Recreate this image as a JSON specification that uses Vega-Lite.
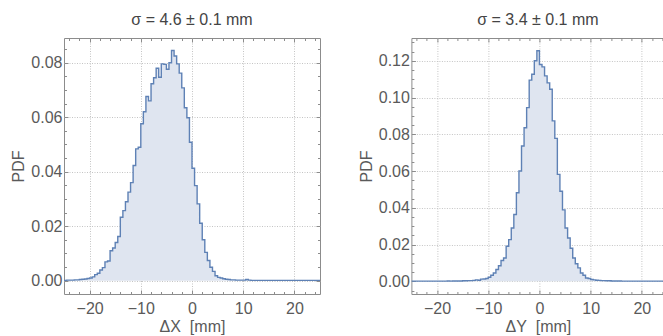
{
  "$schema": "https://vega.github.io/schema/vega-lite/v6.json",
  "padding": {"left": 10, "top": 11, "right": 0, "bottom": 0},
  "spacing": 91.4,
  "bounds": "flush",
  "datasets": {
    "dx": [
      {"x": -25, "pdf": 0.0001}, {"x": -24.5, "pdf": 0.0002}, {"x": -24, "pdf": 0.0002}, {"x": -23.5, "pdf": 0.0002},
      {"x": -23, "pdf": 0.0003}, {"x": -22.5, "pdf": 0.0003}, {"x": -22, "pdf": 0.0004}, {"x": -21.5, "pdf": 0.0005},
      {"x": -21, "pdf": 0.0006}, {"x": -20.5, "pdf": 0.0008}, {"x": -20, "pdf": 0.0010}, {"x": -19.5, "pdf": 0.0014},
      {"x": -19, "pdf": 0.0022}, {"x": -18.5, "pdf": 0.0027}, {"x": -18, "pdf": 0.0039}, {"x": -17.5, "pdf": 0.0048},
      {"x": -17, "pdf": 0.0069}, {"x": -16.5, "pdf": 0.0072}, {"x": -16, "pdf": 0.0110}, {"x": -15.5, "pdf": 0.0120},
      {"x": -15, "pdf": 0.0140}, {"x": -14.5, "pdf": 0.0162}, {"x": -14, "pdf": 0.0233}, {"x": -13.5, "pdf": 0.0257},
      {"x": -13, "pdf": 0.0290}, {"x": -12.5, "pdf": 0.0325}, {"x": -12, "pdf": 0.0360}, {"x": -11.5, "pdf": 0.0423},
      {"x": -11, "pdf": 0.0484}, {"x": -10.5, "pdf": 0.0490}, {"x": -10, "pdf": 0.0576}, {"x": -9.5, "pdf": 0.0620},
      {"x": -9, "pdf": 0.0676}, {"x": -8.5, "pdf": 0.0660}, {"x": -8, "pdf": 0.0723}, {"x": -7.5, "pdf": 0.0745},
      {"x": -7, "pdf": 0.0780}, {"x": -6.5, "pdf": 0.0747}, {"x": -6, "pdf": 0.0796}, {"x": -5.5, "pdf": 0.0794},
      {"x": -5, "pdf": 0.0776}, {"x": -4.5, "pdf": 0.0800}, {"x": -4, "pdf": 0.0845}, {"x": -3.5, "pdf": 0.0825},
      {"x": -3, "pdf": 0.0796}, {"x": -2.5, "pdf": 0.0762}, {"x": -2, "pdf": 0.0708}, {"x": -1.5, "pdf": 0.0635},
      {"x": -1, "pdf": 0.0598}, {"x": -0.5, "pdf": 0.0508}, {"x": 0, "pdf": 0.0413}, {"x": 0.5, "pdf": 0.0349},
      {"x": 1, "pdf": 0.0282}, {"x": 1.5, "pdf": 0.0211}, {"x": 2, "pdf": 0.0150}, {"x": 2.5, "pdf": 0.0104},
      {"x": 3, "pdf": 0.0074}, {"x": 3.5, "pdf": 0.0049}, {"x": 4, "pdf": 0.0034}, {"x": 4.5, "pdf": 0.0018},
      {"x": 5, "pdf": 0.0012}, {"x": 5.5, "pdf": 0.0010}, {"x": 6, "pdf": 0.0007}, {"x": 6.5, "pdf": 0.0005},
      {"x": 7, "pdf": 0.0004}, {"x": 7.5, "pdf": 0.0003}, {"x": 8, "pdf": 0.0003}, {"x": 8.5, "pdf": 0.0002},
      {"x": 9, "pdf": 0.0002}, {"x": 9.5, "pdf": 0.0002}, {"x": 10, "pdf": 0.0002}, {"x": 10.5, "pdf": 0.0004},
      {"x": 11, "pdf": 0.0002}, {"x": 11.5, "pdf": 0.0001}, {"x": 12, "pdf": 0.0001}, {"x": 12.5, "pdf": 0.0001},
      {"x": 13, "pdf": 0.0001}, {"x": 13.5, "pdf": 0.0001}, {"x": 14, "pdf": 0.0001}, {"x": 14.5, "pdf": 0.0001},
      {"x": 15, "pdf": 0.0001}, {"x": 15.5, "pdf": 0.0001}, {"x": 16, "pdf": 0.0001}, {"x": 16.5, "pdf": 0.0001},
      {"x": 17, "pdf": 0.0001}, {"x": 17.5, "pdf": 0.0001}, {"x": 18, "pdf": 0.0001}, {"x": 18.5, "pdf": 0.0001},
      {"x": 19, "pdf": 0.0001}, {"x": 19.5, "pdf": 0.0001}, {"x": 20, "pdf": 0.0001}, {"x": 20.5, "pdf": 0.0001},
      {"x": 21, "pdf": 0.0001}, {"x": 21.5, "pdf": 0.0001}, {"x": 22, "pdf": 0.0001}, {"x": 22.5, "pdf": 0.0001},
      {"x": 23, "pdf": 0.0001}, {"x": 23.5, "pdf": 0.0001}, {"x": 24, "pdf": 0.0001}, {"x": 24.5, "pdf": 0.0001},
      {"x": 25, "pdf": 0.0001}
    ],
    "dy": [
      {"x": -25, "pdf": 0.0001}, {"x": -24.5, "pdf": 0.0001}, {"x": -24, "pdf": 0.0001}, {"x": -23.5, "pdf": 0.0001},
      {"x": -23, "pdf": 0.0001}, {"x": -22.5, "pdf": 0.0001}, {"x": -22, "pdf": 0.0001}, {"x": -21.5, "pdf": 0.0001},
      {"x": -21, "pdf": 0.0001}, {"x": -20.5, "pdf": 0.0001}, {"x": -20, "pdf": 0.0001}, {"x": -19.5, "pdf": 0.0001},
      {"x": -19, "pdf": 0.0001}, {"x": -18.5, "pdf": 0.0001}, {"x": -18, "pdf": 0.0002}, {"x": -17.5, "pdf": 0.0001},
      {"x": -17, "pdf": 0.0002}, {"x": -16.5, "pdf": 0.0002}, {"x": -16, "pdf": 0.0002}, {"x": -15.5, "pdf": 0.0002},
      {"x": -15, "pdf": 0.0003}, {"x": -14.5, "pdf": 0.0003}, {"x": -14, "pdf": 0.0004}, {"x": -13.5, "pdf": 0.0004},
      {"x": -13, "pdf": 0.0005}, {"x": -12.5, "pdf": 0.0008}, {"x": -12, "pdf": 0.0006}, {"x": -11.5, "pdf": 0.0012},
      {"x": -11, "pdf": 0.0013}, {"x": -10.5, "pdf": 0.0015}, {"x": -10, "pdf": 0.0022}, {"x": -9.5, "pdf": 0.0033},
      {"x": -9, "pdf": 0.0045}, {"x": -8.5, "pdf": 0.0064}, {"x": -8, "pdf": 0.0085}, {"x": -7.5, "pdf": 0.0113},
      {"x": -7, "pdf": 0.0127}, {"x": -6.5, "pdf": 0.0191}, {"x": -6, "pdf": 0.0227}, {"x": -5.5, "pdf": 0.0290},
      {"x": -5, "pdf": 0.0364}, {"x": -4.5, "pdf": 0.0482}, {"x": -4, "pdf": 0.0600}, {"x": -3.5, "pdf": 0.0736},
      {"x": -3, "pdf": 0.0836}, {"x": -2.5, "pdf": 0.0945}, {"x": -2, "pdf": 0.1095}, {"x": -1.5, "pdf": 0.1127},
      {"x": -1, "pdf": 0.1200}, {"x": -0.5, "pdf": 0.1255}, {"x": 0, "pdf": 0.1180}, {"x": 0.5, "pdf": 0.1167},
      {"x": 1, "pdf": 0.1118}, {"x": 1.5, "pdf": 0.1080}, {"x": 2, "pdf": 0.1045}, {"x": 2.5, "pdf": 0.0873},
      {"x": 3, "pdf": 0.0778}, {"x": 3.5, "pdf": 0.0582}, {"x": 4, "pdf": 0.0490}, {"x": 4.5, "pdf": 0.0389},
      {"x": 5, "pdf": 0.0290}, {"x": 5.5, "pdf": 0.0236}, {"x": 6, "pdf": 0.0180}, {"x": 6.5, "pdf": 0.0127},
      {"x": 7, "pdf": 0.0096}, {"x": 7.5, "pdf": 0.0073}, {"x": 8, "pdf": 0.0045}, {"x": 8.5, "pdf": 0.0033},
      {"x": 9, "pdf": 0.0018}, {"x": 9.5, "pdf": 0.0015}, {"x": 10, "pdf": 0.0010}, {"x": 10.5, "pdf": 0.0008},
      {"x": 11, "pdf": 0.0006}, {"x": 11.5, "pdf": 0.0005}, {"x": 12, "pdf": 0.0004}, {"x": 12.5, "pdf": 0.0004},
      {"x": 13, "pdf": 0.0003}, {"x": 13.5, "pdf": 0.0003}, {"x": 14, "pdf": 0.0002}, {"x": 14.5, "pdf": 0.0002},
      {"x": 15, "pdf": 0.0002}, {"x": 15.5, "pdf": 0.0002}, {"x": 16, "pdf": 0.0001}, {"x": 16.5, "pdf": 0.0001},
      {"x": 17, "pdf": 0.0001}, {"x": 17.5, "pdf": 0.0001}, {"x": 18, "pdf": 0.0001}, {"x": 18.5, "pdf": 0.0001},
      {"x": 19, "pdf": 0.0001}, {"x": 19.5, "pdf": 0.0001}, {"x": 20, "pdf": 0.0001}, {"x": 20.5, "pdf": 0.0001},
      {"x": 21, "pdf": 0.0001}, {"x": 21.5, "pdf": 0.0001}, {"x": 22, "pdf": 0.0001}, {"x": 22.5, "pdf": 0.0001},
      {"x": 23, "pdf": 0.0001}, {"x": 23.5, "pdf": 0.0001}, {"x": 24, "pdf": 0.0001}, {"x": 24.5, "pdf": 0.0001},
      {"x": 25, "pdf": 0.0001}
    ]
  },
  "hconcat": [
    {
      "width": 256,
      "height": 256,
      "title": {"text": "σ = 4.6 ± 0.1 mm"},
      "data": {"name": "dx"},
      "layer": [
        {
          "mark": {"type": "area", "interpolate": "step-after", "color": "#dfe5f0", "clip": true},
          "encoding": {
            "x": {"field": "x", "type": "quantitative", "scale": {"domain": [-25, 25], "nice": false, "zero": false},
              "axis": {"orient": "bottom", "title": "ΔX\u00a0 [mm]", "values": [-24,-22,-20,-18,-16,-14,-12,-10,-8,-6,-4,-2,0,2,4,6,8,10,12,14,16,18,20,22,24],
                "labelExpr": "datum.value % 10 === 0 ? format(datum.value, 'd') : ''",
                "gridOpacity": {"condition": {"test": "datum.value % 10 === 0", "value": 1}, "value": 0},
                "tickSize": {"condition": {"test": "datum.value % 10 === 0", "value": -4}, "value": -2.5},
                "labelPadding": 10, "titlePadding": 2.5}},
            "y": {"field": "pdf", "type": "quantitative", "scale": {"domain": [-0.0049, 0.0891], "nice": false, "zero": false},
              "axis": {"orient": "left", "title": "PDF", "values": [0,0.005,0.01,0.015,0.02,0.025,0.03,0.035,0.04,0.045,0.05,0.055,0.06,0.065,0.07,0.075,0.08,0.085],
                "labelExpr": "abs(datum.value*50 - round(datum.value*50)) < 0.001 ? format(datum.value, '.2f') : ''",
                "gridOpacity": {"condition": {"test": "abs(datum.value*50 - round(datum.value*50)) < 0.001", "value": 1}, "value": 0},
                "tickSize": {"condition": {"test": "abs(datum.value*50 - round(datum.value*50)) < 0.001", "value": -4}, "value": -2.5},
                "labelPadding": 6, "titlePadding": 4}}
          }
        },
        {
          "mark": {"type": "line", "interpolate": "step-after", "color": "#5e81b5", "strokeWidth": 1.4, "clip": true},
          "encoding": {
            "x": {"field": "x", "type": "quantitative",
              "axis": {"orient": "top", "title": null, "labels": false, "grid": false, "values": [-24,-22,-20,-18,-16,-14,-12,-10,-8,-6,-4,-2,0,2,4,6,8,10,12,14,16,18,20,22,24],
                "tickSize": {"condition": {"test": "datum.value % 10 === 0", "value": -4}, "value": -2.5}}},
            "y": {"field": "pdf", "type": "quantitative",
              "axis": {"orient": "right", "title": null, "labels": false, "grid": false, "values": [0,0.005,0.01,0.015,0.02,0.025,0.03,0.035,0.04,0.045,0.05,0.055,0.06,0.065,0.07,0.075,0.08,0.085],
                "tickSize": {"condition": {"test": "abs(datum.value*50 - round(datum.value*50)) < 0.001", "value": -4}, "value": -2.5}}}
          }
        }
      ],
      "resolve": {"axis": {"x": "independent", "y": "independent"}}
    },
    {
      "width": 253,
      "height": 256,
      "title": {"text": "σ = 3.4 ± 0.1 mm"},
      "data": {"name": "dy"},
      "layer": [
        {
          "mark": {"type": "area", "interpolate": "step-after", "color": "#dfe5f0", "clip": true},
          "encoding": {
            "x": {"field": "x", "type": "quantitative", "scale": {"domain": [-25, 24.4], "nice": false, "zero": false},
              "axis": {"orient": "bottom", "title": "ΔY\u00a0 [mm]", "values": [-24,-22,-20,-18,-16,-14,-12,-10,-8,-6,-4,-2,0,2,4,6,8,10,12,14,16,18,20,22,24],
                "labelExpr": "datum.value % 10 === 0 ? format(datum.value, 'd') : ''",
                "gridOpacity": {"condition": {"test": "datum.value % 10 === 0", "value": 1}, "value": 0},
                "tickSize": {"condition": {"test": "datum.value % 10 === 0", "value": -4}, "value": -2.5},
                "labelPadding": 10, "titlePadding": 2.5}},
            "y": {"field": "pdf", "type": "quantitative", "scale": {"domain": [-0.0069, 0.1324], "nice": false, "zero": false},
              "axis": {"orient": "left", "title": "PDF", "values": [-0.005,0,0.005,0.01,0.015,0.02,0.025,0.03,0.035,0.04,0.045,0.05,0.055,0.06,0.065,0.07,0.075,0.08,0.085,0.09,0.095,0.1,0.105,0.11,0.115,0.12,0.125,0.13],
                "labelExpr": "datum.value >= 0 && abs(datum.value*50 - round(datum.value*50)) < 0.001 ? format(datum.value, '.2f') : ''",
                "gridOpacity": {"condition": {"test": "datum.value >= 0 && abs(datum.value*50 - round(datum.value*50)) < 0.001", "value": 1}, "value": 0},
                "tickSize": {"condition": {"test": "abs(datum.value*50 - round(datum.value*50)) < 0.001", "value": -4}, "value": -2.5},
                "labelPadding": 6, "titlePadding": 4}}
          }
        },
        {
          "mark": {"type": "line", "interpolate": "step-after", "color": "#5e81b5", "strokeWidth": 1.4, "clip": true},
          "encoding": {
            "x": {"field": "x", "type": "quantitative",
              "axis": {"orient": "top", "title": null, "labels": false, "grid": false, "values": [-24,-22,-20,-18,-16,-14,-12,-10,-8,-6,-4,-2,0,2,4,6,8,10,12,14,16,18,20,22,24],
                "tickSize": {"condition": {"test": "datum.value % 10 === 0", "value": -4}, "value": -2.5}}},
            "y": {"field": "pdf", "type": "quantitative", "axis": null}
          }
        }
      ],
      "resolve": {"axis": {"x": "independent", "y": "independent"}}
    }
  ],
  "config": {
    "font": "Liberation Sans",
    "view": {"stroke": "#8c8c8c", "strokeWidth": 1},
    "axis": {
      "domain": false,
      "labelFont": "Liberation Sans",
      "labelFontSize": 16,
      "labelColor": "#5a5a5a",
      "titleFont": "Liberation Sans",
      "titleFontSize": 16,
      "titleFontWeight": "normal",
      "titleColor": "#5a5a5a",
      "tickColor": "#8c8c8c",
      "gridColor": "#c4c4c4",
      "gridDash": [1, 1.5]
    },
    "title": {"font": "Liberation Sans", "fontSize": 16, "fontWeight": "normal", "color": "#444444", "offset": 9.5}
  }
}
